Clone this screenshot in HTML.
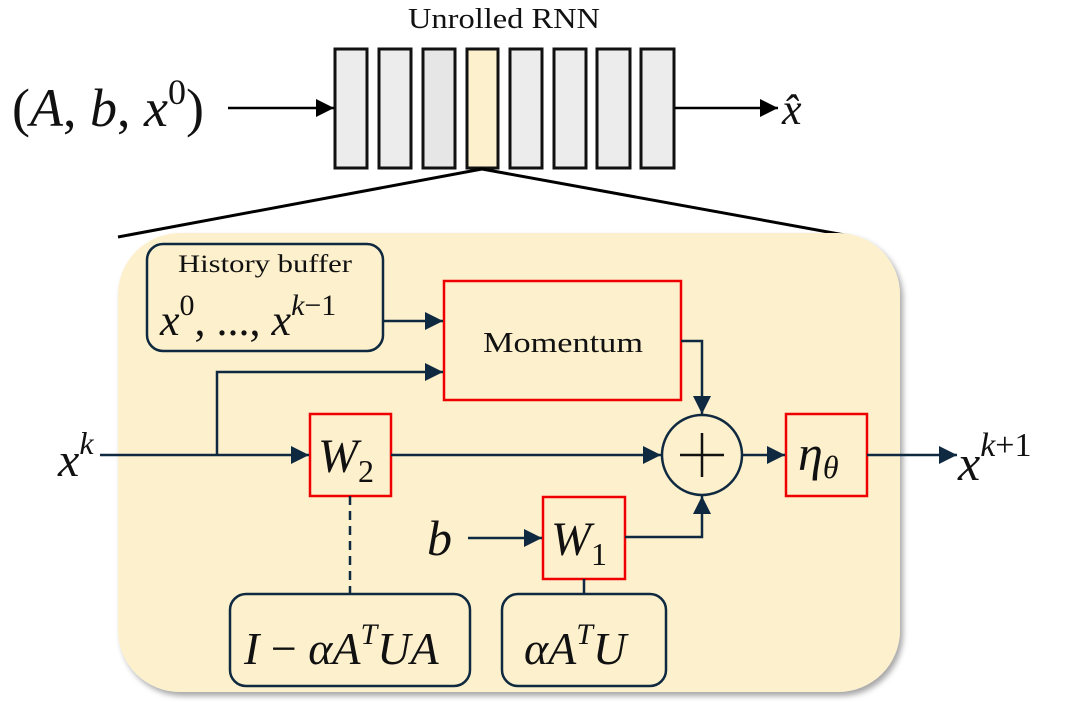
<!DOCTYPE html>
<html><head><meta charset="utf-8"><style>
html,body{margin:0;padding:0;background:#fff;}
svg{display:block}
.m{font-family:"Liberation Serif",serif;font-style:italic;fill:#111}
.r{font-family:"Liberation Serif",serif;font-style:normal;fill:#111}
.s{font-family:"Liberation Serif",serif;font-style:normal;fill:#111}
</style></head><body>
<svg width="1074" height="702" viewBox="0 0 1074 702" xmlns="http://www.w3.org/2000/svg">
<defs>
<marker id="a" viewBox="0 0 10 10" refX="10" refY="5" markerWidth="24" markerHeight="18" markerUnits="userSpaceOnUse" orient="auto"><path d="M0,0L10,5L0,10z" fill="#0f2940"/></marker>
<marker id="k" viewBox="0 0 10 10" refX="10" refY="5" markerWidth="24" markerHeight="18" markerUnits="userSpaceOnUse" orient="auto"><path d="M0,0L10,5L0,10z" fill="#000"/></marker>
<filter id="sh" x="-5%" y="-5%" width="115%" height="115%"><feDropShadow dx="3" dy="4" stdDeviation="3" flood-color="#000" flood-opacity="0.35"/></filter>
</defs>
<text x="408" y="28" class="s" style="font-size:28px" textLength="192" lengthAdjust="spacingAndGlyphs">Unrolled RNN</text>
<g stroke="#111" stroke-width="3">
<rect x="335" y="49" width="32" height="119" fill="#ececec"/>
<rect x="379" y="49" width="32" height="119" fill="#ececec"/>
<rect x="423" y="49" width="32" height="119" fill="#e6e6e6"/>
<rect x="467" y="49" width="31" height="119" fill="#fdf0cc"/>
<rect x="510" y="49" width="32" height="119" fill="#ececec"/>
<rect x="554" y="49" width="32" height="119" fill="#ececec"/>
<rect x="597" y="49" width="33" height="119" fill="#ececec"/>
<rect x="641" y="49" width="33" height="119" fill="#ececec"/>
</g>
<line x1="228" y1="108" x2="334" y2="108" stroke="#000" stroke-width="2.5" marker-end="url(#k)"/>
<line x1="675" y1="108" x2="778" y2="108" stroke="#000" stroke-width="2.5" marker-end="url(#k)"/>
<text x="12" y="126" class="r" style="font-size:54px">(<tspan class="m">A</tspan>, <tspan class="m">b</tspan>, <tspan class="m">x</tspan><tspan style="font-size:36px" dy="-22">0</tspan><tspan dy="22">)</tspan></text>
<text x="782" y="124" class="m" style="font-size:44px">x̂</text>
<line x1="482" y1="169" x2="118" y2="237" stroke="#000" stroke-width="3"/>
<line x1="482" y1="169" x2="850" y2="236" stroke="#000" stroke-width="3"/>
<rect x="118" y="233" width="782" height="459" rx="62" fill="#fdf0cc" filter="url(#sh)"/>
<g fill="none" stroke="#0f2940" stroke-width="2.5">
<rect x="147" y="244" width="236" height="107" rx="16"/>
<rect x="230" y="594" width="240" height="92" rx="16"/>
<rect x="502" y="594" width="164" height="92" rx="16"/>
<circle cx="702" cy="455" r="40"/>
<line x1="680" y1="455" x2="724" y2="455" stroke="#111" stroke-width="2.5"/>
<line x1="702" y1="433" x2="702" y2="477" stroke="#111" stroke-width="2.5"/>
</g>
<g fill="none" stroke="#e00" stroke-width="2.5">
<rect x="444" y="281" width="237" height="119"/>
<rect x="310" y="414" width="81" height="82"/>
<rect x="543" y="497" width="82" height="82"/>
<rect x="786" y="414" width="81" height="82"/>
</g>
<g fill="none" stroke="#0f2940" stroke-width="2.5">
<line x1="383" y1="321" x2="443" y2="321" marker-end="url(#a)"/>
<polyline points="217,455 217,372 443,372" marker-end="url(#a)"/>
<line x1="100" y1="455" x2="309" y2="455" marker-end="url(#a)"/>
<line x1="391" y1="455" x2="661" y2="455" marker-end="url(#a)"/>
<polyline points="681,341 702,341 702,414" marker-end="url(#a)"/>
<polyline points="625,537 702,537 702,496" marker-end="url(#a)"/>
<line x1="742" y1="455" x2="785" y2="455" marker-end="url(#a)"/>
<line x1="867" y1="455" x2="957" y2="455" marker-end="url(#a)"/>
<line x1="468" y1="538" x2="542" y2="538" marker-end="url(#a)"/>
<line x1="350" y1="496" x2="350" y2="594" stroke-dasharray="9,6"/>
<line x1="584" y1="579" x2="584" y2="594"/>
</g>
<text x="178" y="272" class="s" style="font-size:25px" textLength="174" lengthAdjust="spacingAndGlyphs">History buffer</text>
<text x="160" y="335" class="m" style="font-size:44px">x<tspan class="r" style="font-size:30px" dy="-20">0</tspan><tspan class="r" dy="20">, ..., </tspan>x<tspan style="font-size:30px" dy="-20">k</tspan><tspan class="r" style="font-size:30px">−1</tspan></text>
<text x="483" y="352" class="s" style="font-size:29px" textLength="160" lengthAdjust="spacingAndGlyphs">Momentum</text>
<text x="318" y="472" class="m" style="font-size:48px">W<tspan class="r" style="font-size:32px" dy="10">2</tspan></text>
<text x="551" y="555" class="m" style="font-size:48px">W<tspan class="r" style="font-size:32px" dy="10">1</tspan></text>
<text x="798" y="470" class="m" style="font-size:50px">η<tspan style="font-size:32px" dy="8">θ</tspan></text>
<text x="427" y="555" class="m" style="font-size:50px">b</text>
<text x="58" y="476" class="m" style="font-size:48px">x<tspan style="font-size:32px" dy="-22">k</tspan></text>
<text x="958" y="480" class="m" style="font-size:50px">x<tspan style="font-size:34px" dy="-24">k</tspan><tspan class="r" style="font-size:34px">+1</tspan></text>
<text x="244" y="664" class="m" style="font-size:46px">I <tspan class="r">−</tspan> αA<tspan style="font-size:30px" dy="-20">T</tspan><tspan dy="20">UA</tspan></text>
<text x="524" y="664" class="m" style="font-size:46px">αA<tspan style="font-size:30px" dy="-20">T</tspan><tspan dy="20">U</tspan></text>
</svg>
</body></html>
